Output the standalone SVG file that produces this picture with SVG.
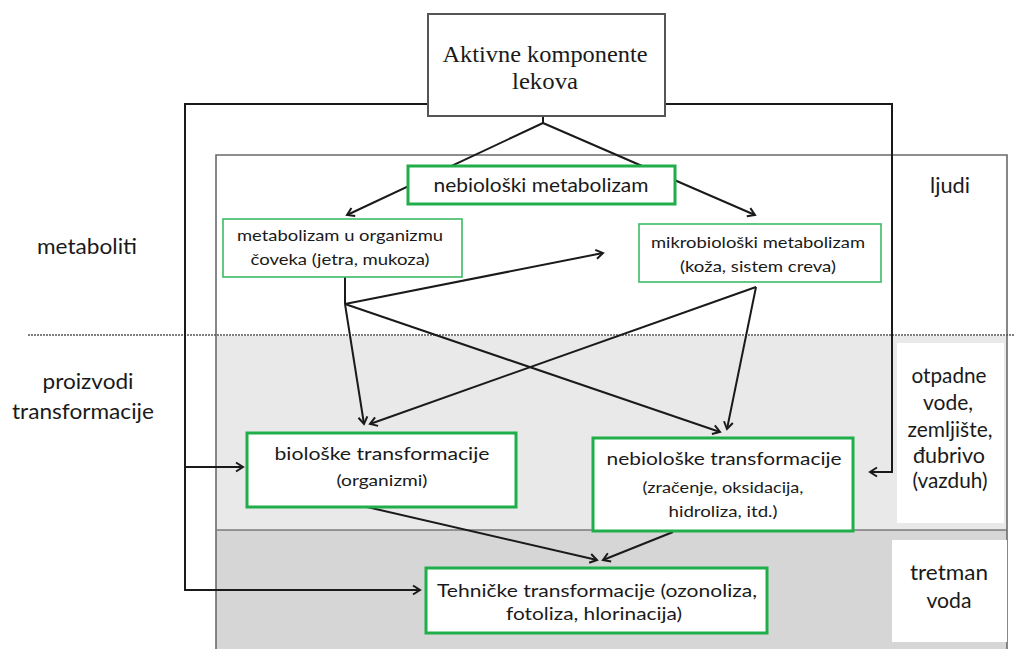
<svg xmlns="http://www.w3.org/2000/svg" width="1014" height="649" viewBox="0 0 1014 649">
<defs>
<style>
.t{font-family:Lato,"Liberation Sans",sans-serif;fill:#1a1a1a;text-anchor:middle}
.s{font-family:"Liberation Serif","DejaVu Serif",serif;fill:#1a1a1a;text-anchor:middle}
.gb{fill:#fff;stroke:#1fae4a;stroke-width:3}
.gt{fill:#fff;stroke:#3dbb63;stroke-width:1.6}
.c{fill:none;stroke:#1a1a1a;stroke-width:2}
</style>
<marker id="a" markerWidth="12" markerHeight="12" refX="9" refY="6" orient="auto" markerUnits="userSpaceOnUse">
<path d="M2,1.5 L9,6 L2,10.5" fill="none" stroke="#1a1a1a" stroke-width="2"/>
</marker>
</defs>
<rect width="1014" height="649" fill="#fff"/>
<g id="panels">
<rect x="216" y="155" width="791" height="180" fill="#fff"/>
<rect x="216" y="336" width="791" height="194" fill="#e9e9e9"/>
<rect x="216" y="530" width="791" height="119" fill="#d6d6d6"/>
<path d="M216,649 V155 H1007 V649" fill="none" stroke="#6a6a6a" stroke-width="1.6"/>
<line x1="216" y1="530" x2="1007" y2="530" stroke="#7a7a7a" stroke-width="1.6"/>
<line x1="28" y1="335" x2="1014" y2="335" stroke="#555" stroke-width="1.6" stroke-dasharray="2,1"/>
<rect x="897" y="343" width="107" height="180" fill="#fff"/>
<rect x="892" y="540" width="115" height="102" fill="#fff"/>
</g>
<g id="labels">
<text class="t" x="87" y="254" font-size="21" textLength="100" lengthAdjust="spacingAndGlyphs">metaboliti</text>
<text class="t" x="88" y="389" font-size="21" textLength="91" lengthAdjust="spacingAndGlyphs">proizvodi</text>
<text class="t" x="83" y="419" font-size="21" textLength="142" lengthAdjust="spacingAndGlyphs">transformacije</text>
<text class="t" x="950" y="193" font-size="21" textLength="40" lengthAdjust="spacingAndGlyphs">ljudi</text>
<text class="t" x="949" y="383" font-size="21" textLength="75" lengthAdjust="spacingAndGlyphs">otpadne</text>
<text class="t" x="948" y="410" font-size="21">vode,</text>
<text class="t" x="950" y="437" font-size="21" textLength="85" lengthAdjust="spacingAndGlyphs">zemljište,</text>
<text class="t" x="949" y="463" font-size="21" textLength="72" lengthAdjust="spacingAndGlyphs">đubrivo</text>
<text class="t" x="950" y="488" font-size="21" textLength="75" lengthAdjust="spacingAndGlyphs">(vazduh)</text>
<text class="t" x="949" y="580" font-size="21" textLength="78" lengthAdjust="spacingAndGlyphs">tretman</text>
<text class="t" x="949" y="608" font-size="21" textLength="45" lengthAdjust="spacingAndGlyphs">voda</text>
</g>
<g id="connectors">
<path class="c" d="M428,104 H185 V590 H420" marker-end="url(#a)"/>
<path class="c" d="M185,467 H243" marker-end="url(#a)"/>
<path class="c" d="M665,104 H892 V472 H870" marker-end="url(#a)"/>
<path class="c" d="M543,116 V123"/>
<path class="c" d="M543,123 L347,215" marker-end="url(#a)"/>
<path class="c" d="M543,123 L755,215" marker-end="url(#a)"/>
<path class="c" d="M345,277 V304"/>
<path class="c" d="M345,304 L603,253" marker-end="url(#a)"/>
<path class="c" d="M345,304 L364,424" marker-end="url(#a)"/>
<path class="c" d="M345,304 L720,432" marker-end="url(#a)"/>
<path class="c" d="M756,287 L370,424" marker-end="url(#a)"/>
<path class="c" d="M756,287 L727,429" marker-end="url(#a)"/>
<path class="c" d="M367,507 L597,560" marker-end="url(#a)"/>
<path class="c" d="M673,532 L603,560" marker-end="url(#a)"/>
</g>
<g id="n-aktivne">
<rect x="428" y="14" width="237" height="102" fill="#fff" stroke="#555" stroke-width="2"/>
<text class="s" x="545" y="62" font-size="23" textLength="205" lengthAdjust="spacingAndGlyphs">Aktivne komponente</text>
<text class="s" x="545" y="89" font-size="23" textLength="66" lengthAdjust="spacingAndGlyphs">lekova</text>
</g>
<g id="n-nebioloski-metabolizam">
<rect class="gb" x="408" y="166" width="267" height="38"/>
<text class="t" x="541" y="192" font-size="19" textLength="215" lengthAdjust="spacingAndGlyphs">nebiološki metabolizam</text>
</g>
<g id="n-organizam">
<rect class="gt" x="223" y="219" width="239" height="58"/>
<text class="t" x="340" y="241" font-size="16" textLength="206" lengthAdjust="spacingAndGlyphs">metabolizam u organizmu</text>
<text class="t" x="340" y="265" font-size="16" textLength="179" lengthAdjust="spacingAndGlyphs">čoveka (jetra, mukoza)</text>
</g>
<g id="n-mikrobioloski">
<rect class="gt" x="639" y="224" width="242" height="58"/>
<text class="t" x="758" y="248" font-size="16" textLength="214" lengthAdjust="spacingAndGlyphs">mikrobiološki metabolizam</text>
<text class="t" x="758" y="272" font-size="16" textLength="156" lengthAdjust="spacingAndGlyphs">(koža, sistem creva)</text>
</g>
<g id="n-bioloske">
<rect class="gb" x="247" y="433" width="269" height="74"/>
<text class="t" x="382" y="460" font-size="18" textLength="215" lengthAdjust="spacingAndGlyphs">biološke transformacije</text>
<text class="t" x="382" y="486" font-size="16" textLength="91" lengthAdjust="spacingAndGlyphs">(organizmi)</text>
</g>
<g id="n-nebioloske">
<rect class="gb" x="593" y="438" width="260" height="93"/>
<text class="t" x="724" y="465" font-size="18" textLength="235" lengthAdjust="spacingAndGlyphs">nebiološke transformacije</text>
<text class="t" x="723" y="493" font-size="16" textLength="161" lengthAdjust="spacingAndGlyphs">(zračenje, oksidacija,</text>
<text class="t" x="723" y="517" font-size="16" textLength="109" lengthAdjust="spacingAndGlyphs">hidroliza, itd.)</text>
</g>
<g id="n-tehnicke">
<rect class="gb" x="426" y="568" width="341" height="65"/>
<text class="t" x="597" y="597" font-size="18" textLength="320" lengthAdjust="spacingAndGlyphs">Tehničke transformacije (ozonoliza,</text>
<text class="t" x="594" y="620" font-size="18" textLength="176" lengthAdjust="spacingAndGlyphs">fotoliza, hlorinacija)</text>
</g>
</svg>
